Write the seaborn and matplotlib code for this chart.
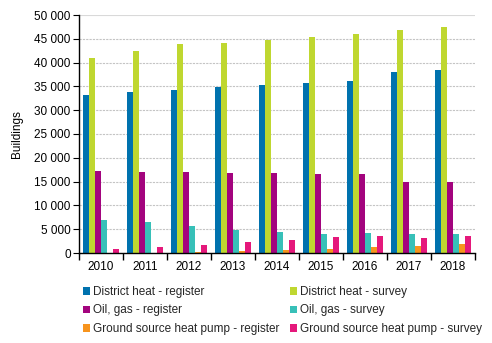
import matplotlib
matplotlib.use("Agg")
import matplotlib.pyplot as plt
import seaborn as sns
import pandas as pd
from matplotlib.ticker import FuncFormatter, FixedLocator

years = ["2010", "2011", "2012", "2013", "2014", "2015", "2016", "2017", "2018"]
series = [
    "District heat - register",
    "District heat - survey",
    "Oil, gas - register",
    "Oil, gas - survey",
    "Ground source heat pump - register",
    "Ground source heat pump - survey",
]
district_register = [33200, 33800, 34250, 34900, 35300, 35700, 36100, 38000, 38400]
district_survey = [41000, 42400, 43900, 44100, 44750, 45400, 46000, 46800, 47500]
oilgas_register = [17200, 17000, 17000, 16800, 16800, 16600, 16600, 14900, 14900]
oilgas_survey = [6900, 6500, 5700, 4800, 4400, 4000, 4200, 4000, 4000]
gshp_register = [0, 0, 200, 420, 630, 840, 1260, 1470, 1890]
gshp_survey = [840, 1260, 1680, 2300, 2730, 3360, 3570, 3150, 3570]
colors = ["#0072AE", "#BFD730", "#A3047E", "#37C0B8", "#F7941D", "#E5187B"]

values = [district_register, district_survey, oilgas_register,
          oilgas_survey, gshp_register, gshp_survey]
rows = []
for s, vals in zip(series, values):
    for y, v in zip(years, vals):
        rows.append({"Year": y, "Series": s, "Buildings": v})
df = pd.DataFrame(rows)

sns.set_theme(style="white")
plt.rcParams["font.family"] = ["Liberation Sans", "DejaVu Sans"]
plt.rcParams["font.size"] = 8.5

fig = plt.figure(figsize=(4.92, 3.43), dpi=100)
ax = fig.add_axes([79 / 492, 1 - 253 / 343, 396 / 492, 238 / 343])

sns.barplot(data=df, x="Year", y="Buildings", hue="Series", order=years,
            hue_order=series, palette=colors, width=0.82, saturation=1,
            ax=ax, legend=True, edgecolor="none", linewidth=0)

ax.set_ylim(0, 50000)
ax.set_xlim(-0.5, len(years) - 0.5)
ax.yaxis.set_major_locator(FixedLocator(range(0, 50001, 5000)))
ax.yaxis.set_major_formatter(FuncFormatter(lambda v, p: f"{int(v):,}".replace(",", " ")))
ax.grid(axis="y", color="#c4c4c4", linestyle=(0, (2, 1)), linewidth=0.8)
gl = ax.get_ygridlines()
gl[-1].set_linestyle("-")
gl[-1].set_color("#d9d9d9")
ax.set_axisbelow(True)
for side in ["top", "right"]:
    ax.spines[side].set_visible(False)
for side in ["left", "bottom"]:
    ax.spines[side].set_color("black")
    ax.spines[side].set_linewidth(1.0)

ax.tick_params(axis="y", which="major", direction="out", length=4, width=0.8,
               color="black", labelsize=8.5, labelcolor="black", pad=2, left=True)
ax.tick_params(axis="x", which="major", length=0, labelsize=8.5, labelcolor="black", pad=6)
ax.set_xticks([i - 0.5 for i in range(len(years) + 1)], minor=True)
ax.tick_params(axis="x", which="minor", direction="out", length=5, width=1.0,
               color="black", bottom=True)

ax.set_xlabel("")
ax.set_ylabel("Buildings", fontsize=8.5, color="black", labelpad=8)

handles, labels = ax.get_legend_handles_labels()
ax.get_legend().remove()
order = [0, 2, 4, 1, 3, 5]
fig.legend([handles[i] for i in order], [labels[i] for i in order],
           loc="upper left", bbox_to_anchor=(82.5 / 492, 1 - 286 / 343),
           ncol=2, frameon=False, fontsize=8.5, handlelength=0.6, handleheight=0.6,
           handletextpad=0.3, columnspacing=0.85, labelspacing=0.55, borderaxespad=0,
           borderpad=0)

fig.savefig("out.png", dpi=100)
